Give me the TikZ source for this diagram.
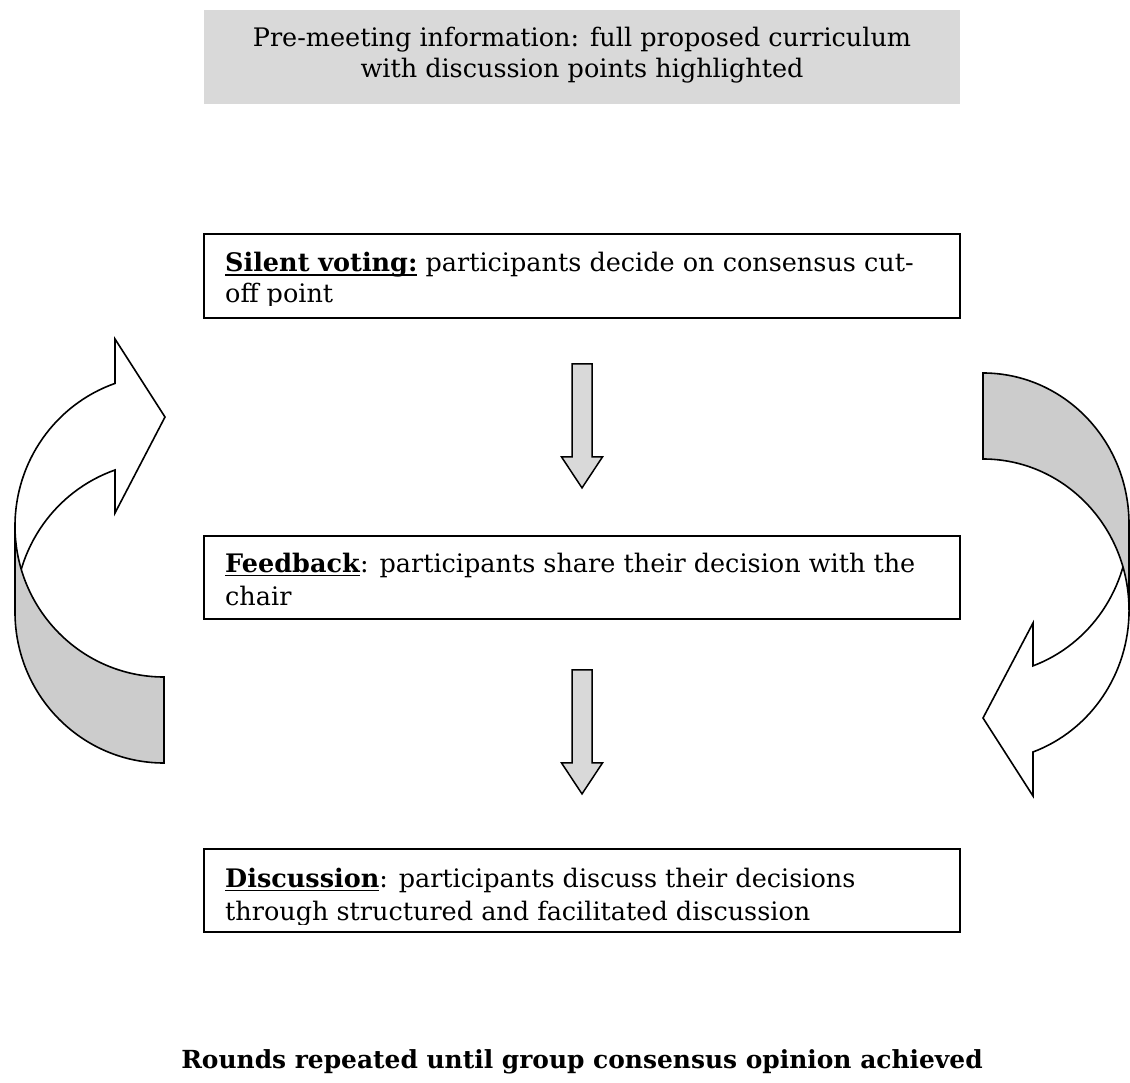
\documentclass[tikz,border=0pt]{standalone}
\usepackage{fontspec}
\setmainfont{DejaVu Serif}
\newcommand{\hd}[1]{\setbox0\hbox{\textbf{#1}}\rlap{\vrule width\wd0 height -2.5pt depth 4pt}\box0\relax}
\definecolor{boxgrey}{RGB}{217,217,217}
\definecolor{bandgrey}{RGB}{204,204,204}
\tikzset{
	stepbox/.style={draw, line width=1.8pt, minimum width=756pt, inner sep=0pt},
	txt/.style={inner sep=0pt, anchor=base west, font=\fontsize{25.5}{32}\selectfont},
	ctxt/.style={txt, anchor=base},
	downarrow/.style={draw, fill=boxgrey, line width=1.5pt},
	bandfront/.style={draw, fill=white, line width=1.6pt},
	bandback/.style={draw, fill=bandgrey, line width=1.6pt}
}

\begin{document}
\begin{tikzpicture}[x=1pt, y=1pt]
	\useasboundingbox (0,0) rectangle (1130,-1083);

	% pre-meeting information
	\node[fill=boxgrey, minimum width=756pt, minimum height=94pt] (pre) at (582,-57) {};
	\node[ctxt] (pre_1) at (582,-47) {Pre-meeting information: full proposed curriculum};
	\node[ctxt] (pre_2) at (582,-78) {with discussion points highlighted};

	% the three steps of a round
	\node[stepbox, minimum height=84pt] (vote) at (582,-276) {};
	\node[stepbox, minimum height=83pt] (feed) at (582,-577.5) {};
	\node[stepbox, minimum height=83pt] (disc) at (582,-890.5) {};

	\begin{scope}
		\clip (204,-234) rectangle (960,-306);
		\node[txt] (vote_1) at (225,-272) {\hd{Silent voting:} participants decide on consensus cut-};
		\node[txt] (vote_2) at (225,-303) {off point};
	\end{scope}
	\node[txt] (feed_1) at (225,-572) {\hd{Feedback}: participants share their decision with the};
	\node[txt] (feed_2) at (225,-605) {chair};
	\begin{scope}
		\clip (204,-849) rectangle (960,-924);
		\node[txt] (disc_1) at (225,-887) {\hd{Discussion}: participants discuss their decisions};
		\node[txt] (disc_2) at (225,-920) {through structured and facilitated discussion};
	\end{scope}

	\draw[downarrow] (vote.south) ++(-10,-45) -- ++(20,0) -- ++(0,-93) -- ++(10.5,0)
		-- ++(-20.5,-31) -- ++(-20.5,31) -- ++(10.5,0) -- cycle;
	\draw[downarrow] (feed.south) ++(-10,-50) -- ++(20,0) -- ++(0,-93) -- ++(10.5,0)
		-- ++(-20.5,-31) -- ++(-20.5,31) -- ++(10.5,0) -- cycle;

	% left loop
	\draw[bandfront] (15,-526) arc[start angle=180, end angle=109.2, x radius=149pt, y radius=151pt]
		-- (115,-339) -- (165,-417) -- (115,-513) -- (115,-470)
		arc[start angle=109.2, end angle=180, x radius=149pt, y radius=151pt] -- cycle;
	\draw[bandback] (164,-677) arc[start angle=270, end angle=180, x radius=149pt, y radius=151pt]
		-- (15,-612) arc[start angle=180, end angle=270, x radius=149pt, y radius=151pt] -- cycle;

	% right loop
	\draw[bandfront] (1129,-524) arc[start angle=0, end angle=-70, x radius=146pt, y radius=151pt]
		-- (1033,-623) -- (983,-718) -- (1033,-796) -- (1033,-752)
		arc[start angle=-70, end angle=0, x radius=146pt, y radius=151pt] -- cycle;
	\draw[bandback] (983,-373) arc[start angle=90, end angle=0, x radius=146pt, y radius=151pt]
		-- (1129,-610) arc[start angle=0, end angle=90, x radius=146pt, y radius=151pt] -- cycle;

	\node[ctxt, font=\fontsize{24.9}{32}\selectfont\bfseries] (rounds) at (582,-1068)
		{Rounds repeated until group consensus opinion achieved};
\end{tikzpicture}
\end{document}
